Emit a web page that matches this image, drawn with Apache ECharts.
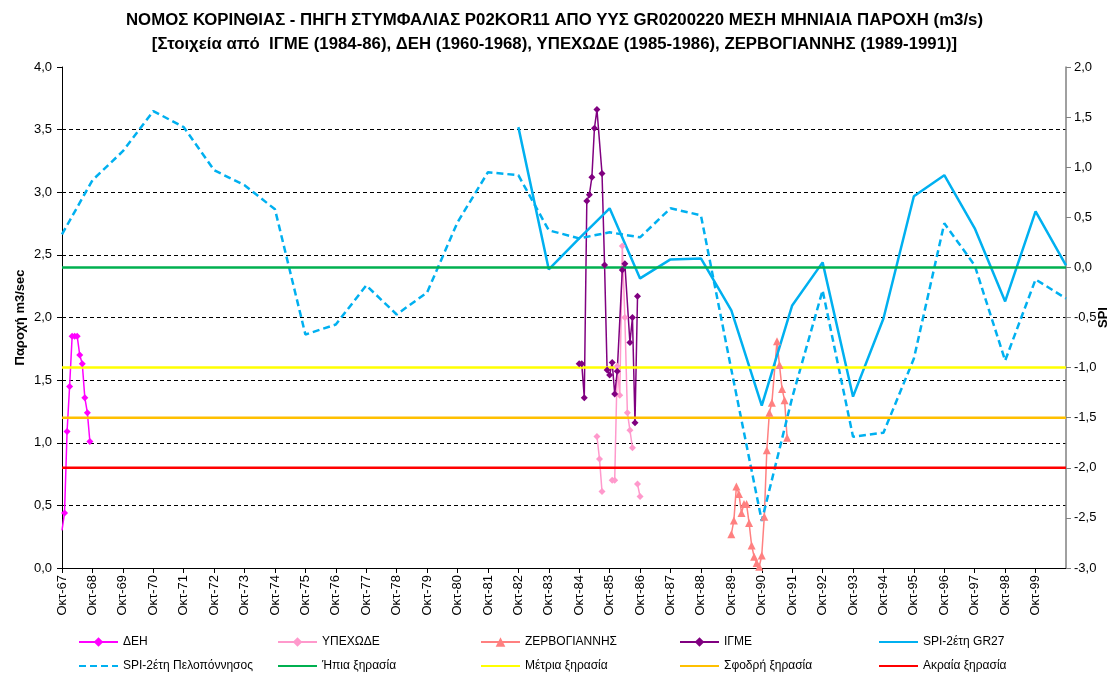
<!DOCTYPE html>
<html>
<head>
<meta charset="utf-8">
<script src="https://cdn.jsdelivr.net/npm/echarts@6/dist/echarts.min.js"></script>
<style>
  html, body { margin: 0; padding: 0; background: #ffffff; }
  #chart { width: 1109px; height: 674px; }
</style>
</head>
<body>
<div id="chart"></div>
<script>
const FONT = '"Liberation Sans", Arial, sans-serif';

// Tick labels of the time axis: one per hydrological year (October)
const yearLabels = [
  'Οκτ-67','Οκτ-68','Οκτ-69','Οκτ-70','Οκτ-71','Οκτ-72','Οκτ-73','Οκτ-74','Οκτ-75',
  'Οκτ-76','Οκτ-77','Οκτ-78','Οκτ-79','Οκτ-80','Οκτ-81','Οκτ-82','Οκτ-83','Οκτ-84',
  'Οκτ-85','Οκτ-86','Οκτ-87','Οκτ-88','Οκτ-89','Οκτ-90','Οκτ-91','Οκτ-92','Οκτ-93',
  'Οκτ-94','Οκτ-95','Οκτ-96','Οκτ-97','Οκτ-98','Οκτ-99'
];

// Mean monthly discharge (m3/s); null marks a missing month (line break)
const deiMonths = ['1967-10','1967-11','1967-12','1968-01','1968-02','1968-03',
                   '1968-04','1968-05','1968-06','1968-07','1968-08','1968-09'];
const deiFlow   = [0.30, 0.44, 1.09, 1.45, 1.85, 1.85, 1.85, 1.70, 1.63, 1.36, 1.24, 1.01];

const ypexodeMonths = ['1985-05','1985-06','1985-07', null,
                       '1985-11','1985-12','1986-01','1986-02','1986-03','1986-04',
                       '1986-05','1986-06','1986-07', null, '1986-09','1986-10'];
const ypexodeFlow   = [1.05, 0.87, 0.61, null,
                       0.70, 0.70, 1.61, 1.38, 2.57, 2.00,
                       1.24, 1.10, 0.96, null, 0.67, 0.57];

const zervMonths = ['1989-10','1989-11','1989-12','1990-01','1990-02','1990-03',
                    '1990-04','1990-05','1990-06','1990-07','1990-08','1990-09',
                    '1990-10','1990-11','1990-12','1991-01','1991-02',
                    '1991-04','1991-05','1991-06','1991-07','1991-08'];
const zervFlow   = [0.27, 0.38, 0.65, 0.59, 0.44, 0.51, 0.51, 0.36, 0.18, 0.09, 0.04, 0.01,
                    0.10, 0.41, 0.94, 1.24, 1.32,
                    1.81, 1.62, 1.43, 1.34, 1.04];

const igmeMonths = ['1984-10','1984-11','1984-12','1985-01','1985-02','1985-03',
                    '1985-04','1985-05','1985-07','1985-08','1985-09','1985-10',
                    '1985-11','1985-12','1986-01','1986-03','1986-04','1986-06',
                    '1986-07','1986-08','1986-09'];
const igmeFlow   = [1.63, 1.63, 1.36, 2.93, 2.98, 3.12, 3.51, 3.66, 3.15, 2.42, 1.58, 1.54,
                    1.64, 1.39, 1.57, 2.38, 2.43, 1.80, 2.00, 1.16, 2.17];

// 2-year SPI, one value per October
const spiGR27Years = [1982,1983,1984,1985,1986,1987,1988,1989,1990,1991,
                      1992,1993,1994,1995,1996,1997,1998,1999,2000];
const spiGR27      = [1.40, -0.02, 0.29, 0.59, -0.11, 0.08, 0.09, -0.43, -1.38, -0.38,
                      0.05, -1.29, -0.51, 0.71, 0.92, 0.39, -0.34, 0.56, 0.02];

const spiPelYears = [1967,1968,1969,1970,1971,1972,1973,1974,1975,1976,1977,1978,
                     1979,1980,1981,1982,1983,1984,1985,1986,1987,1988,1989,1990,
                     1991,1992,1993,1994,1995,1996,1997,1998,1999,2000];
const spiPeloponnisos = [0.33, 0.87, 1.16, 1.56, 1.40, 0.97, 0.82, 0.58, -0.67, -0.57,
                         -0.18, -0.47, -0.25, 0.45, 0.95, 0.92, 0.37, 0.29, 0.35, 0.30,
                         0.59, 0.52, -1.02, -2.53, -1.30, -0.23, -1.69, -1.65, -0.91, 0.44,
                         0.02, -0.93, -0.12, -0.31];

// Drought classes on the SPI scale
const droughtNames  = ['Ήπια ξηρασία', 'Μέτρια ξηρασία', 'Σφοδρή ξηρασία', 'Ακραία ξηρασία'];
const droughtLevels = [0, -1, -1.5, -2];
const droughtColors = ['#00B050', '#FFFF00', '#FFC000', '#FF0000'];

// Axis runs from October 1967 to October 2000, counted in months
const X_MAX = 396;
function monthIndex(s) {
  const [y, m] = s.split('-').map(Number);
  return (y - 1967) * 12 + (m - 10);
}
function monthlyPairs(months, values) {
  const out = [];
  months.forEach((mo, i) => {
    if (mo === null) {
      const prev = out.length ? out[out.length - 1].value[0] : 0;
      out.push({ value: [prev + 1, null] });
    } else {
      const x = monthIndex(mo);
      // a reading lying on the left axis edge is drawn without its marker
      out.push(x === 0 ? { value: [x, values[i]], symbol: 'none' } : { value: [x, values[i]] });
    }
  });
  return out;
}
function yearlyPairs(years, values) {
  return years.map((y, i) => [(y - 1967) * 12, values[i]]);
}
const comma = v => v.toFixed(1).replace('.', ',');

function flowSeries(name, color, symbol, size, months, values) {
  return {
    name, type: 'line', xAxisIndex: 0, yAxisIndex: 0,
    data: monthlyPairs(months, values),
    symbol, symbolSize: size, showSymbol: true, connectNulls: false, clip: true,
    itemStyle: { color },
    lineStyle: { color, width: 1.5 },
    emphasis: { disabled: true }
  };
}

const series = [
  flowSeries('ΔΕΗ', '#FF00FF', 'diamond', 7, deiMonths, deiFlow),
  flowSeries('ΥΠΕΧΩΔΕ', '#FF99CC', 'diamond', 7, ypexodeMonths, ypexodeFlow),
  flowSeries('ΖΕΡΒΟΓΙΑΝΝΗΣ', '#FF8080', 'triangle', 8, zervMonths, zervFlow),
  flowSeries('ΙΓΜΕ', '#800080', 'diamond', 7, igmeMonths, igmeFlow),
  {
    name: 'SPI-2έτη GR27', type: 'line', yAxisIndex: 1,
    data: yearlyPairs(spiGR27Years, spiGR27),
    symbol: 'none', itemStyle: { color: '#00B0F0' },
    lineStyle: { color: '#00B0F0', width: 2.5 }
  },
  {
    name: 'SPI-2έτη Πελοπόννησος', type: 'line', yAxisIndex: 1,
    data: yearlyPairs(spiPelYears, spiPeloponnisos),
    symbol: 'none', itemStyle: { color: '#00B0F0' },
    lineStyle: { color: '#00B0F0', width: 2.5, type: [7, 4] }
  }
];
droughtNames.forEach((name, i) => {
  series.push({
    name, type: 'line', yAxisIndex: 1,
    data: [[0, droughtLevels[i]], [X_MAX, droughtLevels[i]]],
    symbol: 'none', itemStyle: { color: droughtColors[i] },
    lineStyle: { color: droughtColors[i], width: 2.5 }
  });
});

// Legend laid out as two rows of five columns; plain lines get no marker
const legendRow1 = ['ΔΕΗ', 'ΥΠΕΧΩΔΕ', 'ΖΕΡΒΟΓΙΑΝΝΗΣ', 'ΙΓΜΕ', 'SPI-2έτη GR27'];
const legendRow2 = ['SPI-2έτη Πελοπόννησος'].concat(droughtNames);
const lineOnly = ['SPI-2έτη GR27', 'SPI-2έτη Πελοπόννησος'].concat(droughtNames);
const legendItem = name => lineOnly.includes(name)
  ? { name, itemStyle: { color: 'rgba(0,0,0,0)', borderColor: 'rgba(0,0,0,0)', borderWidth: 0 } }
  : { name };
const legendLeft = [78, 277, 480, 679, 878];
const legends = legendLeft.map((left, i) => ({
  left, top: 636, padding: 0, orient: 'vertical',
  itemWidth: 39, itemHeight: 12, itemGap: 12,
  selectedMode: false,
  textStyle: { fontFamily: FONT, fontSize: 12, color: '#000' },
  data: [legendItem(legendRow1[i]), legendItem(legendRow2[i])]
}));

const chart = echarts.init(document.getElementById('chart'), null, { renderer: 'canvas' });
chart.setOption({
  animation: false,
  backgroundColor: '#ffffff',
  textStyle: { fontFamily: FONT },
  title: {
    text: 'ΝΟΜΟΣ ΚΟΡΙΝΘΙΑΣ - ΠΗΓΗ ΣΤΥΜΦΑΛΙΑΣ P02KOR11 ΑΠΟ ΥΥΣ GR0200220 ΜΕΣΗ ΜΗΝΙΑΙΑ ΠΑΡΟΧΗ (m3/s)\n' +
          '[Στοιχεία από  ΙΓΜΕ (1984-86), ΔΕΗ (1960-1968), ΥΠΕΧΩΔΕ (1985-1986), ΖΕΡΒΟΓΙΑΝΝΗΣ (1989-1991)]',
    left: 'center', top: 3,
    textStyle: { fontFamily: FONT, fontSize: 16.8, fontWeight: 'bold', color: '#000', lineHeight: 24 }
  },
  legend: legends,
  grid: { left: 62, right: 43, top: 67, bottom: 106, outerBoundsMode: 'none', containLabel: false },
  xAxis: {
    type: 'value', min: 0, max: X_MAX, interval: 12,
    axisLine: { onZero: false, lineStyle: { color: '#000', width: 1 } },
    axisTick: { inside: false, length: 5, lineStyle: { color: '#000' } },
    splitLine: { show: false },
    axisLabel: {
      rotate: 90, margin: 7, fontFamily: FONT, fontSize: 13, color: '#000',
      showMaxLabel: false,
      formatter: v => yearLabels[Math.round(v / 12)] || ''
    }
  },
  yAxis: [
    {
      type: 'value', min: 0, max: 4, interval: 0.5, position: 'left',
      name: 'Παροχή m3/sec', nameLocation: 'middle', nameGap: 35, nameRotate: 90,
      nameMoveOverlap: false,
      nameTextStyle: { fontFamily: FONT, fontSize: 13, fontWeight: 'bold', color: '#000' },
      axisLine: { show: true, lineStyle: { color: '#000', width: 1 } },
      axisTick: { show: true, inside: false, length: 5, lineStyle: { color: '#000' } },
      axisLabel: { fontFamily: FONT, fontSize: 13, color: '#000', margin: 10, formatter: comma },
      splitLine: {
        show: true, showMinLine: false, showMaxLine: false,
        lineStyle: { color: '#000', width: 1, type: [4, 3] }
      }
    },
    {
      type: 'value', min: -3, max: 2, interval: 0.5, position: 'right',
      name: 'SPI', nameLocation: 'middle', nameGap: 31, nameRotate: 90,
      nameMoveOverlap: false,
      nameTextStyle: { fontFamily: FONT, fontSize: 13, fontWeight: 'bold', color: '#000' },
      axisLine: { show: true, lineStyle: { color: '#808080', width: 1.5 } },
      axisTick: { show: true, inside: false, length: 5, lineStyle: { color: '#808080' } },
      axisLabel: { fontFamily: FONT, fontSize: 13, color: '#000', margin: 8, formatter: comma },
      splitLine: { show: false }
    }
  ],
  series
});
</script>
</body>
</html>
